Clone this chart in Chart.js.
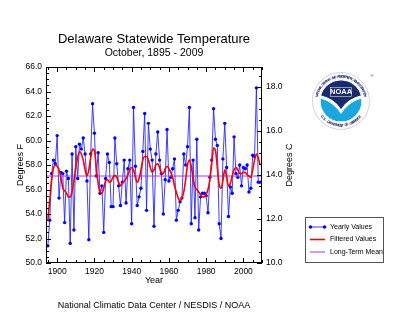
<!DOCTYPE html>
<html>
<head>
<meta charset="utf-8">
<script src="https://cdn.jsdelivr.net/npm/chart.js@4/dist/chart.umd.min.js"></script>
<style>
  html, body { margin: 0; padding: 0; background: #fff; }
  #wrap { width: 400px; height: 329px; position: relative; }
</style>
</head>
<body>
<div id="wrap"><canvas id="c" width="400" height="329"></canvas></div>
<script>
// October mean temperature, Delaware statewide (deg F)
const firstYear = 1895;
const lastYear = 2009;
const years = Array.from({ length: lastYear - firstYear + 1 }, (_, i) => firstYear + i);

const yearlyF = [
  51.4, 53.5, 57.3, 58.4, 58.1, 60.4, 55.3, 57.4, 57.3, 53.3,   // 1895-1904
  57.5, 56.9, 51.6, 58.9, 52.7, 59.5, 56.9, 59.7, 59.3, 60.2,   // 1905-1914
  58.9, 56.7, 51.9, 58.9, 63.0, 60.6, 57.1, 59.0, 55.7, 56.3,   // 1915-1924
  52.5, 56.9, 58.9, 58.2, 54.6, 54.6, 60.2, 58.1, 56.3, 54.7,   // 1925-1934
  56.6, 58.4, 54.9, 57.7, 58.4, 53.2, 62.7, 57.9, 54.7, 55.4,   // 1935-1944
  56.1, 59.1, 62.2, 54.3, 61.4, 59.3, 58.4, 53.0, 58.9, 60.7,   // 1945-1954
  58.4, 57.3, 54.0, 56.8, 60.9, 56.7, 57.0, 57.7, 58.5, 53.5,   // 1955-1964
  54.3, 55.0, 55.3, 58.9, 58.0, 59.5, 62.7, 53.2, 58.4, 53.7,   // 1965-1974
  60.1, 52.7, 55.4, 55.7, 55.7, 55.5, 54.1, 57.0, 58.4, 62.6,   // 1975-1984
  60.1, 59.6, 53.2, 52.0, 58.5, 61.4, 57.8, 53.8, 56.2, 55.7,   // 1985-1994
  60.3, 57.3, 57.0, 58.0, 56.3, 57.8, 57.7, 58.0, 55.8, 56.1,   // 1995-2004
  58.8, 58.7, 64.3, 56.6, 56.6                                  // 2005-2009
];

const filteredF = [
  53.5, 55.1, 56.7, 57.7, 58.0, 57.9, 57.6, 57.0, 56.1, 55.9,   // 1895-1904
  55.7, 55.4, 55.4, 55.8, 56.7, 57.8, 58.6, 59.1, 58.9, 58.4,   // 1905-1914
  57.6, 57.1, 57.6, 58.6, 59.3, 59.2, 57.8, 56.5, 55.8, 55.7,   // 1915-1924
  56.1, 56.7, 56.8, 56.6, 56.7, 57.0, 57.15, 57.0, 56.6, 56.3,  // 1925-1934
  56.5, 56.7, 56.9, 57.2, 57.6, 57.8, 57.6, 57.0, 56.6, 56.9,   // 1935-1944
  57.6, 58.4, 58.7, 58.7, 58.4, 57.8, 57.4, 57.6, 58.0, 58.1,   // 1945-1954
  57.8, 57.3, 57.3, 57.7, 57.9, 57.7, 57.4, 57.0, 56.3, 55.8,   // 1955-1964
  55.3, 55.1, 55.3, 55.8, 56.8, 58.0, 58.4, 57.9, 56.9, 56.2,   // 1965-1974
  56.0, 55.8, 55.6, 55.4, 55.4, 55.6, 56.0, 56.8, 58.1, 59.4,   // 1975-1984
  59.2, 57.8, 56.4, 56.1, 56.7, 57.6, 57.0, 56.3, 56.5, 57.1,   // 1985-1994
  57.6, 57.8, 57.6, 57.3, 57.3, 57.4, 57.4, 57.2, 57.1, 57.0,   // 1995-2004
  57.6, 58.4, 58.9, 58.6, 58.0                                  // 2005-2009
];

const meanF = 57.1;

// Axis ranges and tick labels
const xMin = 1894, xMax = 2010;
const xTickYears = [1900, 1920, 1940, 1960, 1980, 2000];
const yMinF = 50, yMaxF = 66;
const yTicksF = [50, 52, 54, 56, 58, 60, 62, 64, 66];
const yTicksC = [10, 12, 14, 16, 18];

const titleText = 'Delaware Statewide Temperature';
const subtitleText = 'October, 1895 - 2009';
const xTitle = 'Year';
const yTitleF = 'Degrees F';
const yTitleC = 'Degrees C';
const footerText = 'National Climatic Data Center / NESDIS / NOAA';

const FONT = '"Liberation Sans", Arial, Helvetica, sans-serif';
const fToC = f => (f - 32) * 5 / 9;

function setTicks(list) {
  return scale => { scale.ticks = list.map(v => ({ value: v })); };
}

function line(ctx, x1, y1, x2, y2) {
  ctx.beginPath(); ctx.moveTo(x1, y1); ctx.lineTo(x2, y2); ctx.stroke();
}

// NOAA emblem: ring lettering, dark sky, white gull, light-blue sea
function drawLogo(ctx, cx, cy) {
  const r = 20.5;
  ctx.save();
  ctx.translate(cx, cy);

  ctx.fillStyle = '#ffffff';
  ctx.beginPath(); ctx.arc(0, 0, 29, 0, Math.PI * 2); ctx.fill();
  ctx.strokeStyle = 'rgba(30,40,110,0.35)';
  ctx.lineWidth = 0.6;
  ctx.beginPath(); ctx.arc(0, 0, 28.5, 0, Math.PI * 2); ctx.stroke();

  ctx.save();
  ctx.beginPath(); ctx.arc(0, 0, r, 0, Math.PI * 2); ctx.clip();
  ctx.fillStyle = '#1ba6df';
  ctx.fillRect(-r, -r, 2 * r, 2 * r);
  // white gull
  ctx.fillStyle = '#ffffff';
  ctx.beginPath();
  ctx.moveTo(-r - 1, -3);
  ctx.quadraticCurveTo(-7, 1, 0, 13);
  ctx.quadraticCurveTo(7, 1, r + 1, -3);
  ctx.lineTo(r + 1, -6);
  ctx.quadraticCurveTo(7, -3, 0, 8);
  ctx.quadraticCurveTo(-7, -3, -r - 1, -6);
  ctx.closePath();
  ctx.fill();
  // dark sky
  ctx.fillStyle = '#1b2a6b';
  ctx.beginPath();
  ctx.moveTo(-r - 1, -6);
  ctx.lineTo(-r - 1, -r - 1);
  ctx.lineTo(r + 1, -r - 1);
  ctx.lineTo(r + 1, -6);
  ctx.quadraticCurveTo(7, -3, 0, 8);
  ctx.quadraticCurveTo(-7, -3, -r - 1, -6);
  ctx.closePath();
  ctx.fill();
  ctx.restore();

  ctx.fillStyle = '#ffffff';
  ctx.font = 'bold 7.5px ' + FONT;
  ctx.textAlign = 'center';
  ctx.textBaseline = 'middle';
  ctx.fillText('NOAA', 0, -9);
  ctx.strokeStyle = '#ffffff';
  ctx.lineWidth = 0.5;
  ctx.strokeRect(-10.5, -13.5, 21, 9);

  // ring lettering
  ctx.fillStyle = '#1b2a6b';
  ctx.font = 'bold 3.6px ' + FONT;
  const topStr = 'NATIONAL OCEANIC AND ATMOSPHERIC ADMINISTRATION';
  const a0 = -Math.PI * 0.93, a1 = -Math.PI * 0.07;
  for (let i = 0; i < topStr.length; i++) {
    const a = a0 + (a1 - a0) * i / (topStr.length - 1);
    ctx.save();
    ctx.rotate(a + Math.PI / 2);
    ctx.fillText(topStr[i], 0, -24.5);
    ctx.restore();
  }
  const botStr = 'U.S. DEPARTMENT OF COMMERCE';
  const b0 = Math.PI * 0.78, b1 = Math.PI * 0.22;
  for (let i = 0; i < botStr.length; i++) {
    const a = b0 + (b1 - b0) * i / (botStr.length - 1);
    ctx.save();
    ctx.rotate(a - Math.PI / 2);
    ctx.fillText(botStr[i], 0, 24.5);
    ctx.restore();
  }
  ctx.font = '4px ' + FONT;
  ctx.fillText('\u00AE', 31, -25);
  ctx.restore();
}

const decorations = {
  id: 'decorations',
  afterDraw(chart) {
    const ctx = chart.ctx;
    const { left, right, top, bottom } = chart.chartArea;
    const xs = chart.scales.x, ys = chart.scales.y, yc = chart.scales.y2;
    ctx.save();
    ctx.strokeStyle = '#000';
    ctx.lineWidth = 1;

    // frame
    ctx.strokeRect(left + 0.5, top + 0.5, right - left - 1, bottom - top - 1);

    // inward ticks: years
    for (let yr = 1895; yr <= xMax; yr += 5) {
      const px = Math.round(xs.getPixelForValue(yr)) + 0.5;
      const len = (yr % 20 === 0) ? 5 : 3;
      line(ctx, px, bottom, px, bottom - len);
      line(ctx, px, top, px, top + len);
    }
    // inward ticks: deg F (left)
    for (let v = yMinF; v <= yMaxF + 1e-6; v += 0.5) {
      const py = Math.round(ys.getPixelForValue(v)) + 0.5;
      const len = (Math.abs(v % 2) < 1e-6) ? 5 : 3;
      line(ctx, left, py, left + len, py);
    }
    // inward ticks: deg C (right)
    for (let v = 10; v <= fToC(yMaxF) + 1e-6; v += 0.5) {
      const py = Math.round(yc.getPixelForValue(v)) + 0.5;
      const len = (Math.abs(v % 2) < 1e-6) ? 5 : 3;
      line(ctx, right, py, right - len, py);
    }

    // titles
    const cxPlot = (left + right) / 2;
    ctx.fillStyle = '#000';
    ctx.textAlign = 'center';
    ctx.textBaseline = 'alphabetic';
    ctx.font = '13px ' + FONT;
    ctx.fillText(titleText, cxPlot, 43);
    ctx.font = '10.5px ' + FONT;
    ctx.fillText(subtitleText, cxPlot, 56);
    ctx.font = '9px ' + FONT;
    ctx.fillText(xTitle, cxPlot, 283);
    ctx.fillText(footerText, cxPlot, 308);

    ctx.textBaseline = 'middle';
    ctx.save();
    ctx.translate(21, (top + bottom) / 2);
    ctx.rotate(-Math.PI / 2);
    ctx.fillText(yTitleF, 0, 0);
    ctx.restore();
    ctx.save();
    ctx.translate(290, (top + bottom) / 2);
    ctx.rotate(-Math.PI / 2);
    ctx.fillText(yTitleC, 0, 0);
    ctx.restore();

    // legend
    const lx = 305, ly = 217, lw = 78, lh = 45;
    ctx.strokeStyle = '#555';
    ctx.lineWidth = 1;
    ctx.strokeRect(lx + 0.5, ly + 0.5, lw, lh);
    ctx.font = '7px ' + FONT;
    ctx.textAlign = 'left';
    const rowsY = [227, 239.5, 252];
    chart.data.datasets.forEach((ds, i) => {
      const y = rowsY[i];
      ctx.strokeStyle = ds.borderColor;
      ctx.lineWidth = ds.borderWidth;
      line(ctx, 310, y, 325, y);
      if (ds.pointRadius > 0) {
        ctx.fillStyle = ds.pointBackgroundColor;
        [310.5, 324.5].forEach(px => {
          ctx.beginPath(); ctx.arc(px, y, 1.8, 0, Math.PI * 2); ctx.fill();
        });
      }
      ctx.fillStyle = '#000';
      ctx.fillText(ds.label, 330, y);
    });

    drawLogo(ctx, 341, 101);
    ctx.restore();
  }
};

const toPoints = vals => years.map((yr, i) => ({ x: yr, y: vals[i] }));

new Chart(document.getElementById('c'), {
  type: 'line',
  data: {
    datasets: [
      {
        label: 'Yearly Values',
        data: toPoints(yearlyF),
        borderColor: 'rgba(30,30,255,0.85)',
        borderWidth: 1,
        pointRadius: 1.7,
        pointBackgroundColor: '#0000ff',
        pointBorderColor: '#0000ff',
        pointBorderWidth: 0,
        tension: 0,
        order: 2
      },
      {
        label: 'Filtered Values',
        data: toPoints(filteredF),
        borderColor: '#ff0000',
        borderWidth: 1.6,
        pointRadius: 0,
        cubicInterpolationMode: 'monotone',
        order: 0
      },
      {
        label: 'Long-Term Mean',
        data: [{ x: xMin, y: meanF }, { x: xMax, y: meanF }],
        borderColor: '#9b3ff0',
        borderWidth: 1,
        pointRadius: 0,
        order: 1
      }
    ]
  },
  options: {
    responsive: false,
    animation: false,
    devicePixelRatio: 1,
    layout: { padding: { top: 67, left: 0, right: 0, bottom: 0 } },
    plugins: { legend: { display: false }, tooltip: { enabled: false }, title: { display: false } },
    scales: {
      x: {
        type: 'linear', min: xMin, max: xMax,
        grid: { display: false, drawTicks: false },
        border: { display: false },
        afterBuildTicks: setTicks(xTickYears),
        afterFit: s => { s.height = 66; },
        ticks: {
          autoSkip: false, maxRotation: 0, padding: 4, color: '#000',
          font: { family: FONT, size: 8.5 },
          callback: v => String(v)
        }
      },
      y: {
        position: 'left', min: yMinF, max: yMaxF,
        grid: { display: false, drawTicks: false },
        border: { display: false },
        afterBuildTicks: setTicks(yTicksF),
        afterFit: s => { s.width = 46; },
        ticks: {
          autoSkip: false, padding: 4, color: '#000',
          font: { family: FONT, size: 8.5 },
          callback: v => Number(v).toFixed(1)
        }
      },
      y2: {
        position: 'right', min: fToC(yMinF), max: fToC(yMaxF),
        grid: { display: false, drawTicks: false },
        border: { display: false },
        afterBuildTicks: setTicks(yTicksC),
        afterFit: s => { s.width = 138; },
        ticks: {
          autoSkip: false, padding: 4, color: '#000',
          font: { family: FONT, size: 8.5 },
          callback: v => Number(v).toFixed(1)
        }
      }
    }
  },
  plugins: [decorations]
});
</script>
</body>
</html>
